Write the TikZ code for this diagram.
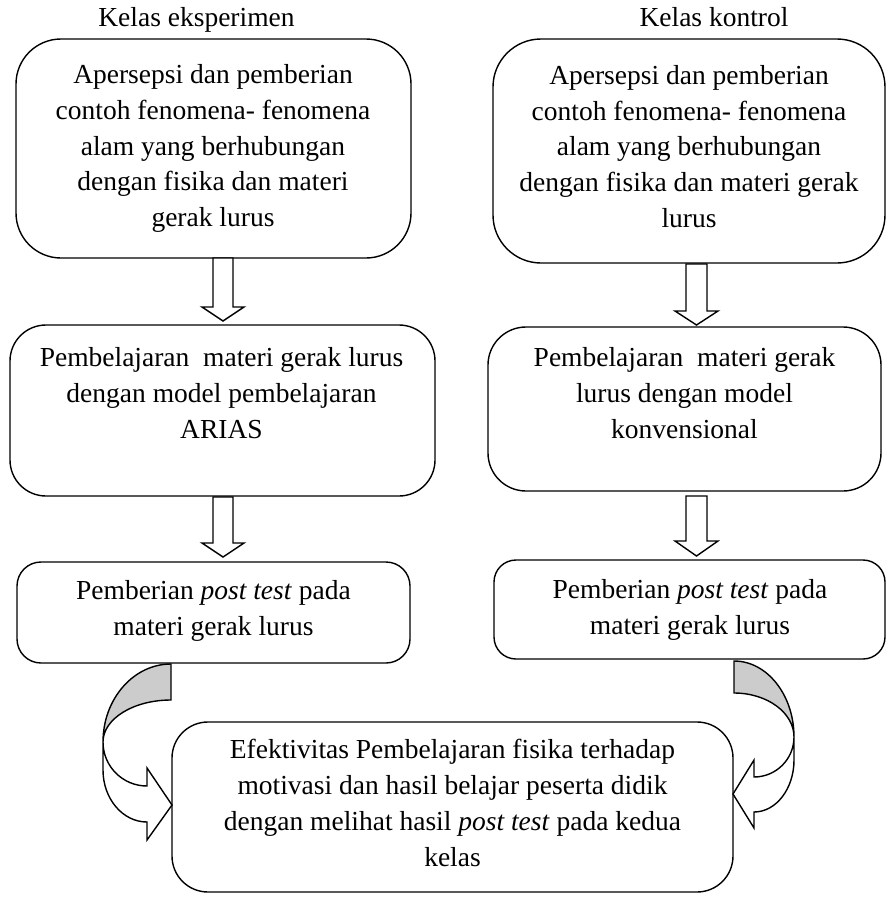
\documentclass[tikz,border=0pt]{standalone}
\usepackage{fontspec}
\setmainfont{Liberation Serif}
\newcommand\blockdown[6]{%
  \draw[arrowshape] (#1-#5,#2) -- (#1+#5,#2) -- (#1+#5,#3) -- (#1+#6,#3) -- (#1,#4) -- (#1-#6,#3) -- (#1-#5,#3) -- cycle;}
\begin{document}
\begin{tikzpicture}[x=1pt,y=-1pt,
  box/.style={draw, line width=1.4pt, inner sep=0pt, fill=white, rectangle},
  txt/.style={align=center, inner sep=0pt, font=\fontsize{27.5}{35.8}\selectfont},
  arrowshape/.style={draw, line width=1.4pt, fill=white, line join=miter},
  backshade/.style={draw, line width=1.4pt, fill=black!20}]
\useasboundingbox (0,0) rectangle (887,899);

% titles
\node[txt, anchor=base] (tEks) at (196.5,27) {Kelas eksperimen};
\node[txt, anchor=base] (tKon) at (714,27) {Kelas kontrol};

% boxes
\node[box, rounded corners=45pt, minimum width=395pt, minimum height=219pt] (b1L) at (213.5,148.5) {};
\node[box, rounded corners=48pt, minimum width=392pt, minimum height=224pt] (b1R) at (689,151) {};
\node[box, rounded corners=36pt, minimum width=425pt, minimum height=171pt] (b2L) at (222.5,410.5) {};
\node[box, rounded corners=38pt, minimum width=393pt, minimum height=164pt] (b2R) at (684.5,409) {};
\node[box, rounded corners=24pt, minimum width=393pt, minimum height=101pt] (b3L) at (213.5,612.5) {};
\node[box, rounded corners=22pt, minimum width=391pt, minimum height=99pt] (b3R) at (689.5,609.5) {};
\node[box, rounded corners=36pt, minimum width=561pt, minimum height=170pt] (bB) at (452.5,807) {};

% texts
\node[txt] (x1L) at (213,148.5) {Apersepsi dan pemberian\\contoh fenomena- fenomena\\alam yang berhubungan\\dengan fisika dan materi\\gerak lurus};
\node[txt] (x1R) at (689,146.5) {Apersepsi dan pemberian\\contoh fenomena- fenomena\\alam yang berhubungan\\dengan fisika dan materi gerak\\lurus};
\node[txt] (x2L) at (221.5,393) {Pembelajaran\ \ materi gerak lurus\\dengan model pembelajaran\\ARIAS};
\node[txt] (x2R) at (684.5,393) {Pembelajaran\ \ materi gerak\\lurus dengan model\\konvensional};
\node[txt] (x3L) at (213.5,610.8) {Pemberian \textit{post test} pada\\materi gerak lurus};
\node[txt] (x3R) at (690,609.8) {Pemberian \textit{post test} pada\\materi gerak lurus};
\node[txt] (xB) at (452.5,803) {Efektivitas Pembelajaran fisika terhadap\\motivasi dan hasil belajar peserta didik\\dengan melihat hasil \textit{post test} pada kedua\\kelas};

% straight block arrows
\blockdown{223}{258}{307}{321}{10}{21}
\blockdown{223}{497}{543}{557}{10}{21}
\blockdown{696.5}{264}{311}{325}{10.5}{21.5}
\blockdown{696.5}{496}{541}{556}{10.5}{21.5}

% left curved arrow
\draw[backshade] (171,664) arc[start angle=270, end angle=180, x radius=68, y radius=78]
  arc[start angle=180, end angle=270, x radius=68, y radius=42] -- cycle;
\draw[arrowshape] (103,742) arc[start angle=180, end angle=90, x radius=44, y radius=44]
  -- (147,768) -- (172,805) -- (147,840) -- (147,822)
  arc[start angle=90, end angle=180, x radius=44, y radius=52] -- cycle;

% right curved arrow
\draw[backshade] (734,661) arc[start angle=270, end angle=360, x radius=60, y radius=76]
  arc[start angle=360, end angle=270, x radius=60, y radius=44] -- cycle;
\draw[arrowshape] (794,737) arc[start angle=0, end angle=90, x radius=40, y radius=40]
  -- (754,760) -- (733,794) -- (754,828) -- (754,812)
  arc[start angle=90, end angle=0, x radius=40, y radius=52] -- cycle;
\end{tikzpicture}
\end{document}
